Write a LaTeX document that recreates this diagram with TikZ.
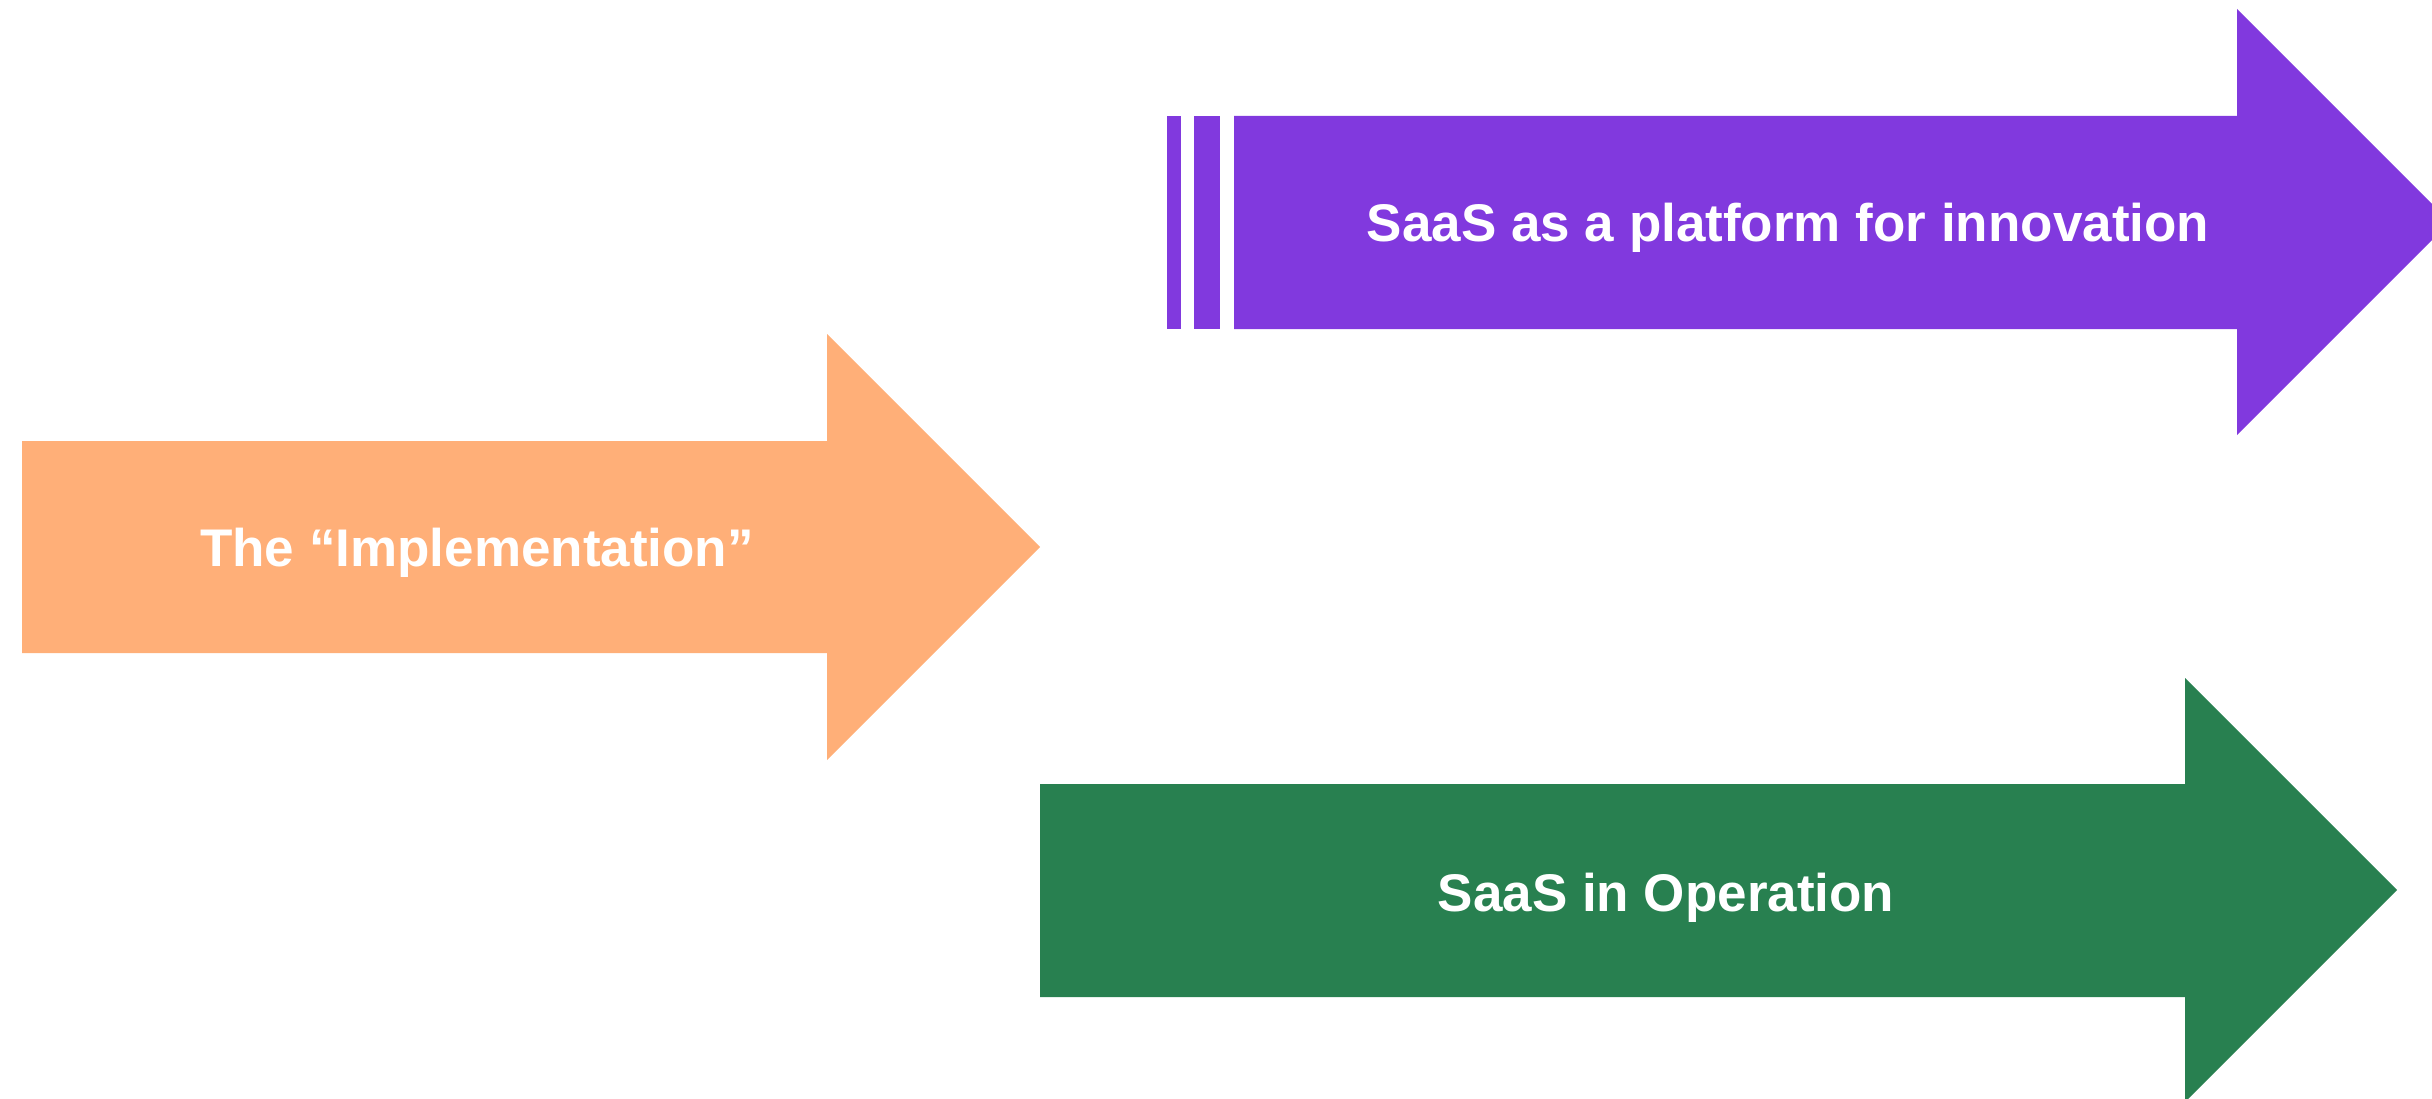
\documentclass[tikz,border=0pt]{standalone}
\usepackage{fontspec}
\setmainfont{Liberation Sans}
\definecolor{orangeA}{RGB}{255,175,120}
\definecolor{purpleA}{RGB}{129,57,222}
\definecolor{greenA}{RGB}{40,128,80}
\tikzset{
  lbl/.style={text=white, font=\fontsize{53}{60}\selectfont\bfseries, inner sep=0pt, anchor=base},
}
\begin{document}
\begin{tikzpicture}[x=1pt,y=-1pt]
\useasboundingbox (0,0) rectangle (2432,1099);
\clip (0,0) rectangle (2432,1099);
% orange arrow
\fill[orangeA] (22,441) -- (827,441) -- (827,334) -- (1040,547) -- (827,760) -- (827,653) -- (22,653) -- cycle;
% purple arrow with bars
\fill[purpleA] (1167,116) rectangle (1181,329);
\fill[purpleA] (1194,116) rectangle (1220,329);
\fill[purpleA] (1234,116) -- (2237,116) -- (2237,9) -- (2450,222) -- (2237,435) -- (2237,329) -- (1234,329) -- cycle;
% green arrow
\fill[greenA] (1040,784) -- (2185,784) -- (2185,678) -- (2397,890) -- (2185,1102) -- (2185,997) -- (1040,997) -- cycle;
% labels
\node[lbl] (impl) at (477,566) {The “Implementation”};
\node[lbl] (plat) at (1788,241.5) {SaaS as a platform for innovation};
\node[lbl] (oper) at (1666,911) {SaaS in Operation};
\end{tikzpicture}
\end{document}
